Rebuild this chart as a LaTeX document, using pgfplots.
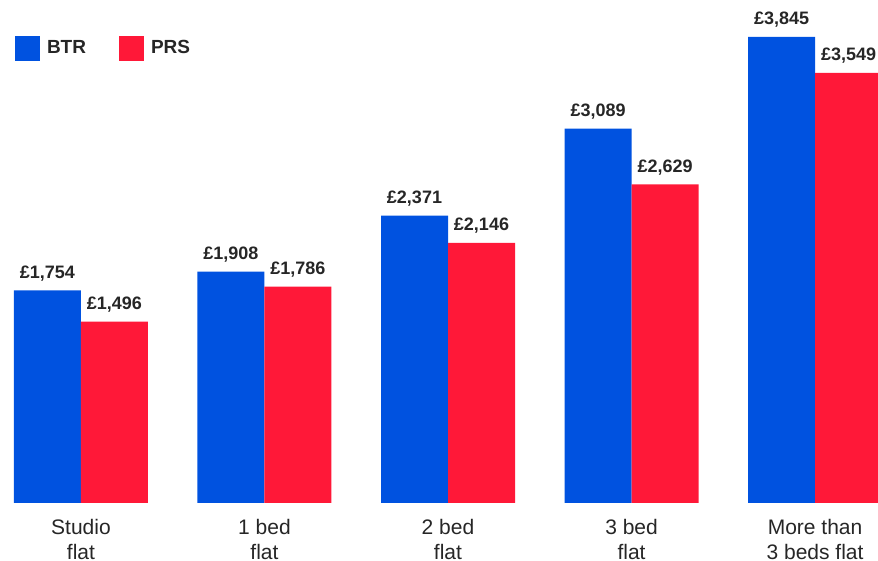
\documentclass[border=0pt]{standalone}
\usepackage{pgfplots}
\pgfplotsset{compat=1.18}
\usepackage{fontspec}
\setmainfont{Liberation Sans}

\definecolor{btrblue}{HTML}{0052E0}
\definecolor{prsred}{HTML}{FF1838}
\definecolor{labelgray}{HTML}{262626}

\begin{document}
\begin{tikzpicture}
\begin{axis}[
  at={(0pt,0pt)}, anchor=south west,
  scale only axis,
  width=439pt, height=251.5pt,
  xmin=-0.441, xmax=4.343,
  ymin=0, ymax=4150,
  ybar=0pt, bar width=33.5pt,
  every axis plot post/.append style={
    legend image code/.code={\fill[##1] (0pt,-6.25pt) rectangle (12.5pt,6.25pt);}},
  axis line style={draw=none},
  ytick=\empty,
  xtick={0,1,2,3,4},
  xticklabels={Studio\\flat, 1 bed\\flat, 2 bed\\flat, 3 bed\\flat, More than\\3 beds flat},
  xtick style={draw=none},
  xticklabel style={align=center, font=\fontsize{10.5}{12.5}\selectfont,
    text=labelgray, inner sep=0pt, anchor=north, yshift=-3.5pt},
  /pgf/number format/assume math mode=true,
  /pgf/number format/fixed,
  /pgf/number format/precision=0,
  /pgf/number format/1000 sep={,},
  nodes near coords={£\pgfmathprintnumber{\pgfplotspointmeta}},
  every node near coord/.append style={font=\bfseries\fontsize{9}{10}\selectfont,
    text=labelgray, anchor=base, inner sep=0pt, yshift=6pt},
  legend columns=2,
  legend style={at={(axis description cs:0.0171,0.9284)}, anchor=north west,
    draw=none, fill=none, inner sep=0pt, outer sep=0pt,
    font=\bfseries\fontsize{9.5}{11}\selectfont, text=labelgray,
    /tikz/column sep=3.5pt,
    /tikz/every even column/.append style={column sep=16.5pt},
    nodes={inner sep=0pt}},
]
% average monthly rent by property type
\addplot[fill=btrblue, draw=none] coordinates {(0,1754) (1,1908) (2,2371) (3,3089) (4,3845)};
\addplot[fill=prsred, draw=none] coordinates {(0,1496) (1,1786) (2,2146) (3,2629) (4,3549)};
\legend{BTR, PRS}
\end{axis}
\pgfresetboundingbox
\path[use as bounding box] (0pt,-29pt) rectangle (439pt,251.5pt);
\end{tikzpicture}
\end{document}
